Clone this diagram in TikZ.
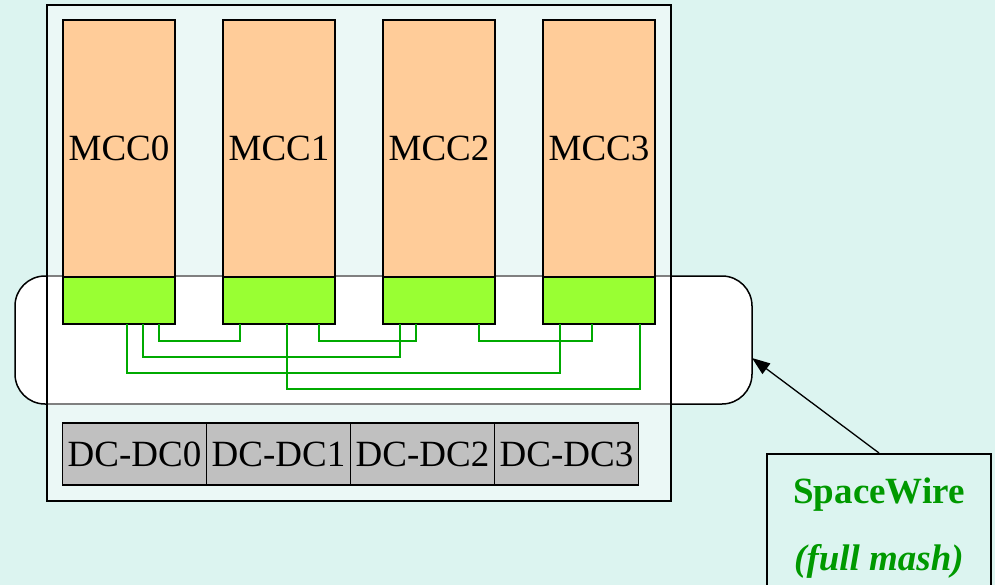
\documentclass[tikz,border=0pt]{standalone}
\usepackage{fontspec}
\setmainfont{Liberation Serif}
\usetikzlibrary{positioning,arrows.meta}

\definecolor{bgteal}{HTML}{DCF4F0}
\definecolor{rackfill}{HTML}{EBF8F6}
\definecolor{mccorange}{HTML}{FFCC99}
\definecolor{portgreen}{HTML}{99FF33}
\definecolor{wiregreen}{HTML}{00AA00}
\definecolor{labelgreen}{HTML}{009900}
\definecolor{dcgray}{HTML}{C0C0C0}

\tikzset{
	mcc/.style={draw, fill=mccorange, line width=1.4pt, minimum width=112pt, minimum height=257pt, inner sep=0pt, outer sep=0pt, font=\fontsize{37}{40}\selectfont},
	port/.style={draw, fill=portgreen, line width=1.4pt, minimum width=112pt, minimum height=47pt, inner sep=0pt, outer sep=0pt},
	dcdc/.style={draw, fill=dcgray, line width=1.4pt, minimum width=144pt, minimum height=62pt, inner sep=0pt, outer sep=0pt, font=\fontsize{37}{40}\selectfont},
	wire/.style={wiregreen, line width=1.2pt},
}

\begin{document}
\begin{tikzpicture}[x=1pt, y=-1pt]
	\fill[bgteal] (0,0) rectangle (995,585);
	\useasboundingbox (0,0) rectangle (995,585);
	\clip (0,0) rectangle (995,585);
	% rack and bus area
	\node[draw, fill=rackfill, line width=1.4pt, minimum width=624pt, minimum height=496pt, inner sep=0pt, outer sep=0pt] (rack) at (359,253) {};
	\node[draw, fill=white, rounded corners=30pt, line width=1.5pt, minimum width=737pt, minimum height=128pt, inner sep=0pt, outer sep=0pt] (bus) at (383.5,340) {};
	\draw[gray, line width=1.4pt] (bus.north -| rack.west) -- (bus.north -| rack.east);
	\draw[gray, line width=1.4pt] (bus.south -| rack.west) -- (bus.south -| rack.east);
	\draw[line width=1.4pt] (rack.north west) rectangle (rack.south east);
	% boards
	\node[mcc] (mcc0) at (119,148.5) {MCC0};
	\node[mcc, right=48pt of mcc0] (mcc1) {MCC1};
	\node[mcc, right=48pt of mcc1] (mcc2) {MCC2};
	\node[mcc, right=48pt of mcc2] (mcc3) {MCC3};
	\foreach \i in {0,...,3}
		\node[port, below=0pt of mcc\i] (port\i) {};
	% links
	\foreach \a/\da/\b/\db/\lv in {0/96/1/17/17, 0/80/2/17/33, 0/64/3/17/49, 1/64/3/97/65, 1/96/2/33/17, 2/96/3/49/17}
		\draw[wire] ([xshift=\da pt]port\a.south west) |- ([xshift=\db pt, yshift=-\lv pt]port\b.south west) -- ([xshift=\db pt]port\b.south west);
	% power
	\node[dcdc] (dc0) at (134.5,454) {DC-DC0};
	\node[dcdc, right=0pt of dc0] (dc1) {DC-DC1};
	\node[dcdc, right=0pt of dc1] (dc2) {DC-DC2};
	\node[dcdc, right=0pt of dc2] (dc3) {DC-DC3};
	% callout
	\node[draw, line width=1.5pt, minimum width=224pt, minimum height=148pt, anchor=north, text=labelgreen, align=center, font=\bfseries\fontsize{37}{67}\selectfont] (sw) at (879,453) {SpaceWire\\\textit{(full mash)}};
	\draw[-{Triangle[length=18pt, width=13pt]}, line width=1.3pt] (sw.north) -- ([yshift=-18pt]bus.east);
\end{tikzpicture}
\end{document}
